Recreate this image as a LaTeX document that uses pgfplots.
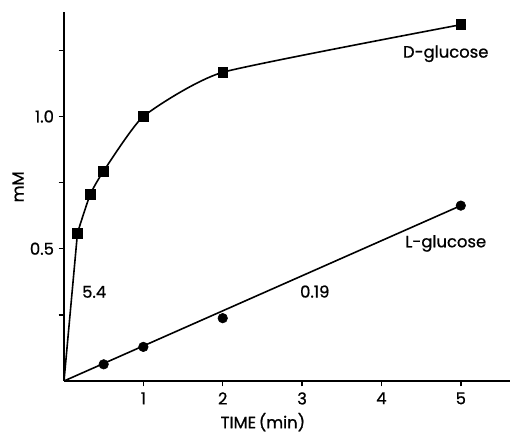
\documentclass[border=0pt]{standalone}
\usepackage{fontspec}
\setmainfont{Poppins}[FakeBold=0.8]
\usepackage{pgfplots}
\pgfplotsset{compat=1.18}
\newcommand{\f}{\fontsize{12.3}{14}\selectfont}
\begin{document}
\begin{tikzpicture}[every node/.append style={font=\f}]
\begin{axis}[
  scale only axis,
  width=334.5pt, height=276.75pt,
  xmin=0, xmax=5.62, ymin=0, ymax=1.395,
  axis lines=left,
  axis line style={-, line width=1.2pt},
  tick align=outside,
  tick style={line width=1.1pt, black},
  major tick length=4pt,
  xtick={1,2,3,4,5},
  xticklabels={1,2,3,4,5},
  ytick={0.25,0.5,0.75,1,1.25},
  yticklabels={,0.5,,1.0,},
  /pgf/number format/assume math mode=true,
  ticklabel style={font=\f},
  label style={font=\f},
  xticklabel style={yshift=-1pt},
  xlabel={TIME\,(min)},
  ylabel={mM},
  x label style={at={(axis description cs:0.446,-0.128)}, anchor=base},
  y label style={at={(axis description cs:-0.103,0.526)}, anchor=center},
  clip=false,
]
% D-glucose initial slope line
\addplot[black, line width=1.2pt] coordinates {(0,0) (0.17,0.56)};
% D-glucose curve
\addplot[black, line width=1.2pt, smooth, tension=0.3] coordinates {
  (0.17,0.56) (0.33,0.705) (0.5,0.794) (1,1.0) (2,1.167) (5,1.347)};
\addplot[only marks, mark=square*, mark size=3.7pt, black] coordinates {
  (0.17,0.56) (0.33,0.705) (0.5,0.794) (1,1.0) (2,1.167) (5,1.347)};
% L-glucose line
\addplot[black, line width=1.2pt] coordinates {(0,0) (5,0.663)};
\addplot[only marks, mark=*, mark size=3.6pt, black] coordinates {
  (0.5,0.063) (1,0.129) (2,0.2375) (5,0.663)};
\node[font=\f] at (axis cs:4.81,1.237) {D-glucose};
\node[font=\f] at (axis cs:4.81,0.52) {L-glucose};
\node[font=\f] at (axis cs:3.16,0.338) {0.19};
\node[font=\f] at (axis cs:0.38,0.337) {5.4};
\end{axis}
\pgfresetboundingbox
\useasboundingbox (-48pt,-39.75pt) rectangle (336.75pt,285.75pt);
\end{tikzpicture}
\end{document}
